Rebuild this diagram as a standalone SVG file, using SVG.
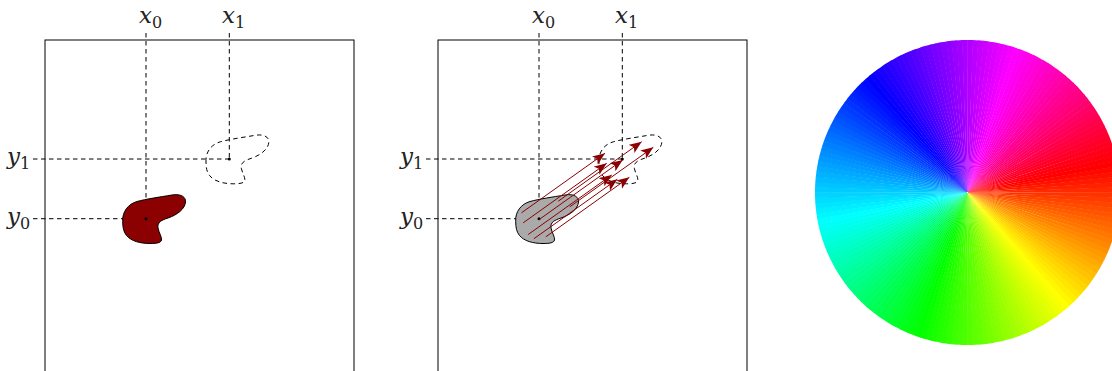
<svg xmlns="http://www.w3.org/2000/svg" width="1112" height="371" viewBox="0 0 1112 371">
<style>
.frame{fill:none;stroke:#000;stroke-width:1}
.dash{fill:none;stroke:#000;stroke-width:1;stroke-dasharray:4.5 3.5}
.arr{stroke:#8b0000;stroke-width:1;fill:none;marker-end:url(#ah)}
.dot{fill:#000}
</style>
<defs>
<path id="blob" d="M122.7,221.7 C122,212 128,204 137,201.5 C146,199 160,197 172,195 C181,193.5 186,197 185.5,202 C185,209 177,215 168,218 C162,220 157,222 158,228 C159,233 162,237 161.5,240 C161,243 156,243.5 150,243.5 C140,243.5 131,241 126.5,235.5 C123.5,232 122.7,227 122.7,221.7 Z"/>
<marker id="ah" markerUnits="userSpaceOnUse" markerWidth="14" markerHeight="12" refX="12.5" refY="5" orient="auto">
<path d="M0,0 L12.5,5 L0,10 L3,5 Z" fill="#8b0000"/>
</marker>
<path id="w" d="M0 0L152.47 -2.93A152.5 152.5 0 0 1 152.47 2.93Z"/>
</defs>

<g id="panel1">
<rect class="frame" x="45" y="40" width="309" height="345"/>
<line class="dash" x1="146" y1="33" x2="146" y2="218.7"/>
<line class="dash" x1="229.3" y1="33" x2="229.3" y2="159"/>
<line class="dash" x1="33" y1="159" x2="229.3" y2="159"/>
<line class="dash" x1="33" y1="218.7" x2="146" y2="218.7"/>
<use href="#blob" fill="#8b0000" stroke="#000" stroke-width="1"/>
<use href="#blob" class="dash" transform="translate(83.3,-59.7)"/>
<circle class="dot" cx="146" cy="218.7" r="1.5"/>
<circle class="dot" cx="229.3" cy="159" r="1.5"/>
<g font-family="DejaVu Serif, serif" fill="#222">
<text x="139" y="23" font-size="23" font-style="italic">x<tspan dy="5" font-size="16" font-style="normal">0</tspan></text>
<text x="222" y="23" font-size="23" font-style="italic">x<tspan dy="5" font-size="16" font-style="normal">1</tspan></text>
<text x="7" y="164" font-size="23" font-style="italic">y<tspan dy="5" font-size="16" font-style="normal">1</tspan></text>
<text x="7" y="224" font-size="23" font-style="italic">y<tspan dy="5" font-size="16" font-style="normal">0</tspan></text>
</g>
</g>

<g id="panel2">
<rect class="frame" x="438" y="40" width="309" height="345"/>
<line class="dash" x1="539" y1="33" x2="539" y2="218.7"/>
<line class="dash" x1="622.3" y1="33" x2="622.3" y2="159"/>
<line class="dash" x1="426" y1="159" x2="622.3" y2="159"/>
<line class="dash" x1="426" y1="218.7" x2="539" y2="218.7"/>
<use href="#blob" fill="#aaaaaa" stroke="#000" stroke-width="1" transform="translate(393,0)"/>
<use href="#blob" class="dash" transform="translate(476.3,-59.7)"/>
<circle class="dot" cx="539" cy="218.7" r="1.5"/>
<circle class="dot" cx="622.3" cy="159" r="1.5"/>
<g font-family="DejaVu Serif, serif" fill="#222">
<text x="532" y="23" font-size="23" font-style="italic">x<tspan dy="5" font-size="16" font-style="normal">0</tspan></text>
<text x="615" y="23" font-size="23" font-style="italic">x<tspan dy="5" font-size="16" font-style="normal">1</tspan></text>
<text x="400" y="164" font-size="23" font-style="italic">y<tspan dy="5" font-size="16" font-style="normal">1</tspan></text>
<text x="400" y="224" font-size="23" font-style="italic">y<tspan dy="5" font-size="16" font-style="normal">0</tspan></text>
</g>
</g>

<g id="connectors">
<line class="arr" x1="558.2" y1="201.2" x2="641.7" y2="141.7"/>
<line class="arr" x1="569.8" y1="206.8" x2="653.3" y2="147.3"/>
<line class="arr" x1="521.5" y1="212.8" x2="605" y2="153.3"/>
<line class="arr" x1="523.2" y1="222.8" x2="606.7" y2="163.3"/>
<line class="arr" x1="539.2" y1="219.5" x2="622.7" y2="160"/>
<line class="arr" x1="528.2" y1="234.5" x2="611.7" y2="175"/>
<line class="arr" x1="533.8" y1="238.8" x2="617.3" y2="179.3"/>
<line class="arr" x1="545.8" y1="236.8" x2="629.3" y2="177.3"/>
</g>

<g id="wheel" transform="translate(967.5,192.5) rotate(-11)">
<use href="#w" transform="rotate(0)" fill="hsl(0,100%,50%)"/>
<use href="#w" transform="rotate(2)" fill="hsl(2,100%,50%)"/>
<use href="#w" transform="rotate(4)" fill="hsl(4,100%,50%)"/>
<use href="#w" transform="rotate(6)" fill="hsl(6,100%,50%)"/>
<use href="#w" transform="rotate(8)" fill="hsl(8,100%,50%)"/>
<use href="#w" transform="rotate(10)" fill="hsl(10,100%,50%)"/>
<use href="#w" transform="rotate(12)" fill="hsl(12,100%,50%)"/>
<use href="#w" transform="rotate(14)" fill="hsl(14,100%,50%)"/>
<use href="#w" transform="rotate(16)" fill="hsl(16,100%,50%)"/>
<use href="#w" transform="rotate(18)" fill="hsl(18,100%,50%)"/>
<use href="#w" transform="rotate(20)" fill="hsl(20,100%,50%)"/>
<use href="#w" transform="rotate(22)" fill="hsl(22,100%,50%)"/>
<use href="#w" transform="rotate(24)" fill="hsl(24,100%,50%)"/>
<use href="#w" transform="rotate(26)" fill="hsl(26,100%,50%)"/>
<use href="#w" transform="rotate(28)" fill="hsl(28,100%,50%)"/>
<use href="#w" transform="rotate(30)" fill="hsl(30,100%,50%)"/>
<use href="#w" transform="rotate(32)" fill="hsl(32,100%,50%)"/>
<use href="#w" transform="rotate(34)" fill="hsl(34,100%,50%)"/>
<use href="#w" transform="rotate(36)" fill="hsl(36,100%,50%)"/>
<use href="#w" transform="rotate(38)" fill="hsl(38,100%,50%)"/>
<use href="#w" transform="rotate(40)" fill="hsl(40,100%,50%)"/>
<use href="#w" transform="rotate(42)" fill="hsl(42,100%,50%)"/>
<use href="#w" transform="rotate(44)" fill="hsl(44,100%,50%)"/>
<use href="#w" transform="rotate(46)" fill="hsl(46,100%,50%)"/>
<use href="#w" transform="rotate(48)" fill="hsl(48,100%,50%)"/>
<use href="#w" transform="rotate(50)" fill="hsl(50,100%,50%)"/>
<use href="#w" transform="rotate(52)" fill="hsl(52,100%,50%)"/>
<use href="#w" transform="rotate(54)" fill="hsl(54,100%,50%)"/>
<use href="#w" transform="rotate(56)" fill="hsl(56,100%,50%)"/>
<use href="#w" transform="rotate(58)" fill="hsl(58,100%,50%)"/>
<use href="#w" transform="rotate(60)" fill="hsl(60,100%,50%)"/>
<use href="#w" transform="rotate(62)" fill="hsl(62,100%,50%)"/>
<use href="#w" transform="rotate(64)" fill="hsl(64,100%,50%)"/>
<use href="#w" transform="rotate(66)" fill="hsl(66,100%,50%)"/>
<use href="#w" transform="rotate(68)" fill="hsl(68,100%,50%)"/>
<use href="#w" transform="rotate(70)" fill="hsl(70,100%,50%)"/>
<use href="#w" transform="rotate(72)" fill="hsl(72,100%,50%)"/>
<use href="#w" transform="rotate(74)" fill="hsl(74,100%,50%)"/>
<use href="#w" transform="rotate(76)" fill="hsl(76,100%,50%)"/>
<use href="#w" transform="rotate(78)" fill="hsl(78,100%,50%)"/>
<use href="#w" transform="rotate(80)" fill="hsl(80,100%,50%)"/>
<use href="#w" transform="rotate(82)" fill="hsl(82,100%,50%)"/>
<use href="#w" transform="rotate(84)" fill="hsl(84,100%,50%)"/>
<use href="#w" transform="rotate(86)" fill="hsl(86,100%,50%)"/>
<use href="#w" transform="rotate(88)" fill="hsl(88,100%,50%)"/>
<use href="#w" transform="rotate(90)" fill="hsl(90,100%,50%)"/>
<use href="#w" transform="rotate(92)" fill="hsl(92,100%,50%)"/>
<use href="#w" transform="rotate(94)" fill="hsl(94,100%,50%)"/>
<use href="#w" transform="rotate(96)" fill="hsl(96,100%,50%)"/>
<use href="#w" transform="rotate(98)" fill="hsl(98,100%,50%)"/>
<use href="#w" transform="rotate(100)" fill="hsl(100,100%,50%)"/>
<use href="#w" transform="rotate(102)" fill="hsl(102,100%,50%)"/>
<use href="#w" transform="rotate(104)" fill="hsl(104,100%,50%)"/>
<use href="#w" transform="rotate(106)" fill="hsl(106,100%,50%)"/>
<use href="#w" transform="rotate(108)" fill="hsl(108,100%,50%)"/>
<use href="#w" transform="rotate(110)" fill="hsl(110,100%,50%)"/>
<use href="#w" transform="rotate(112)" fill="hsl(112,100%,50%)"/>
<use href="#w" transform="rotate(114)" fill="hsl(114,100%,50%)"/>
<use href="#w" transform="rotate(116)" fill="hsl(116,100%,50%)"/>
<use href="#w" transform="rotate(118)" fill="hsl(118,100%,50%)"/>
<use href="#w" transform="rotate(120)" fill="hsl(120,100%,50%)"/>
<use href="#w" transform="rotate(122)" fill="hsl(122,100%,50%)"/>
<use href="#w" transform="rotate(124)" fill="hsl(124,100%,50%)"/>
<use href="#w" transform="rotate(126)" fill="hsl(126,100%,50%)"/>
<use href="#w" transform="rotate(128)" fill="hsl(128,100%,50%)"/>
<use href="#w" transform="rotate(130)" fill="hsl(130,100%,50%)"/>
<use href="#w" transform="rotate(132)" fill="hsl(132,100%,50%)"/>
<use href="#w" transform="rotate(134)" fill="hsl(134,100%,50%)"/>
<use href="#w" transform="rotate(136)" fill="hsl(136,100%,50%)"/>
<use href="#w" transform="rotate(138)" fill="hsl(138,100%,50%)"/>
<use href="#w" transform="rotate(140)" fill="hsl(140,100%,50%)"/>
<use href="#w" transform="rotate(142)" fill="hsl(142,100%,50%)"/>
<use href="#w" transform="rotate(144)" fill="hsl(144,100%,50%)"/>
<use href="#w" transform="rotate(146)" fill="hsl(146,100%,50%)"/>
<use href="#w" transform="rotate(148)" fill="hsl(148,100%,50%)"/>
<use href="#w" transform="rotate(150)" fill="hsl(150,100%,50%)"/>
<use href="#w" transform="rotate(152)" fill="hsl(152,100%,50%)"/>
<use href="#w" transform="rotate(154)" fill="hsl(154,100%,50%)"/>
<use href="#w" transform="rotate(156)" fill="hsl(156,100%,50%)"/>
<use href="#w" transform="rotate(158)" fill="hsl(158,100%,50%)"/>
<use href="#w" transform="rotate(160)" fill="hsl(160,100%,50%)"/>
<use href="#w" transform="rotate(162)" fill="hsl(162,100%,50%)"/>
<use href="#w" transform="rotate(164)" fill="hsl(164,100%,50%)"/>
<use href="#w" transform="rotate(166)" fill="hsl(166,100%,50%)"/>
<use href="#w" transform="rotate(168)" fill="hsl(168,100%,50%)"/>
<use href="#w" transform="rotate(170)" fill="hsl(170,100%,50%)"/>
<use href="#w" transform="rotate(172)" fill="hsl(172,100%,50%)"/>
<use href="#w" transform="rotate(174)" fill="hsl(174,100%,50%)"/>
<use href="#w" transform="rotate(176)" fill="hsl(176,100%,50%)"/>
<use href="#w" transform="rotate(178)" fill="hsl(178,100%,50%)"/>
<use href="#w" transform="rotate(180)" fill="hsl(180,100%,50%)"/>
<use href="#w" transform="rotate(182)" fill="hsl(182,100%,50%)"/>
<use href="#w" transform="rotate(184)" fill="hsl(184,100%,50%)"/>
<use href="#w" transform="rotate(186)" fill="hsl(186,100%,50%)"/>
<use href="#w" transform="rotate(188)" fill="hsl(188,100%,50%)"/>
<use href="#w" transform="rotate(190)" fill="hsl(190,100%,50%)"/>
<use href="#w" transform="rotate(192)" fill="hsl(192,100%,50%)"/>
<use href="#w" transform="rotate(194)" fill="hsl(194,100%,50%)"/>
<use href="#w" transform="rotate(196)" fill="hsl(196,100%,50%)"/>
<use href="#w" transform="rotate(198)" fill="hsl(198,100%,50%)"/>
<use href="#w" transform="rotate(200)" fill="hsl(200,100%,50%)"/>
<use href="#w" transform="rotate(202)" fill="hsl(202,100%,50%)"/>
<use href="#w" transform="rotate(204)" fill="hsl(204,100%,50%)"/>
<use href="#w" transform="rotate(206)" fill="hsl(206,100%,50%)"/>
<use href="#w" transform="rotate(208)" fill="hsl(208,100%,50%)"/>
<use href="#w" transform="rotate(210)" fill="hsl(210,100%,50%)"/>
<use href="#w" transform="rotate(212)" fill="hsl(212,100%,50%)"/>
<use href="#w" transform="rotate(214)" fill="hsl(214,100%,50%)"/>
<use href="#w" transform="rotate(216)" fill="hsl(216,100%,50%)"/>
<use href="#w" transform="rotate(218)" fill="hsl(218,100%,50%)"/>
<use href="#w" transform="rotate(220)" fill="hsl(220,100%,50%)"/>
<use href="#w" transform="rotate(222)" fill="hsl(222,100%,50%)"/>
<use href="#w" transform="rotate(224)" fill="hsl(224,100%,50%)"/>
<use href="#w" transform="rotate(226)" fill="hsl(226,100%,50%)"/>
<use href="#w" transform="rotate(228)" fill="hsl(228,100%,50%)"/>
<use href="#w" transform="rotate(230)" fill="hsl(230,100%,50%)"/>
<use href="#w" transform="rotate(232)" fill="hsl(232,100%,50%)"/>
<use href="#w" transform="rotate(234)" fill="hsl(234,100%,50%)"/>
<use href="#w" transform="rotate(236)" fill="hsl(236,100%,50%)"/>
<use href="#w" transform="rotate(238)" fill="hsl(238,100%,50%)"/>
<use href="#w" transform="rotate(240)" fill="hsl(240,100%,50%)"/>
<use href="#w" transform="rotate(242)" fill="hsl(242,100%,50%)"/>
<use href="#w" transform="rotate(244)" fill="hsl(244,100%,50%)"/>
<use href="#w" transform="rotate(246)" fill="hsl(246,100%,50%)"/>
<use href="#w" transform="rotate(248)" fill="hsl(248,100%,50%)"/>
<use href="#w" transform="rotate(250)" fill="hsl(250,100%,50%)"/>
<use href="#w" transform="rotate(252)" fill="hsl(252,100%,50%)"/>
<use href="#w" transform="rotate(254)" fill="hsl(254,100%,50%)"/>
<use href="#w" transform="rotate(256)" fill="hsl(256,100%,50%)"/>
<use href="#w" transform="rotate(258)" fill="hsl(258,100%,50%)"/>
<use href="#w" transform="rotate(260)" fill="hsl(260,100%,50%)"/>
<use href="#w" transform="rotate(262)" fill="hsl(262,100%,50%)"/>
<use href="#w" transform="rotate(264)" fill="hsl(264,100%,50%)"/>
<use href="#w" transform="rotate(266)" fill="hsl(266,100%,50%)"/>
<use href="#w" transform="rotate(268)" fill="hsl(268,100%,50%)"/>
<use href="#w" transform="rotate(270)" fill="hsl(270,100%,50%)"/>
<use href="#w" transform="rotate(272)" fill="hsl(272,100%,50%)"/>
<use href="#w" transform="rotate(274)" fill="hsl(274,100%,50%)"/>
<use href="#w" transform="rotate(276)" fill="hsl(276,100%,50%)"/>
<use href="#w" transform="rotate(278)" fill="hsl(278,100%,50%)"/>
<use href="#w" transform="rotate(280)" fill="hsl(280,100%,50%)"/>
<use href="#w" transform="rotate(282)" fill="hsl(282,100%,50%)"/>
<use href="#w" transform="rotate(284)" fill="hsl(284,100%,50%)"/>
<use href="#w" transform="rotate(286)" fill="hsl(286,100%,50%)"/>
<use href="#w" transform="rotate(288)" fill="hsl(288,100%,50%)"/>
<use href="#w" transform="rotate(290)" fill="hsl(290,100%,50%)"/>
<use href="#w" transform="rotate(292)" fill="hsl(292,100%,50%)"/>
<use href="#w" transform="rotate(294)" fill="hsl(294,100%,50%)"/>
<use href="#w" transform="rotate(296)" fill="hsl(296,100%,50%)"/>
<use href="#w" transform="rotate(298)" fill="hsl(298,100%,50%)"/>
<use href="#w" transform="rotate(300)" fill="hsl(300,100%,50%)"/>
<use href="#w" transform="rotate(302)" fill="hsl(302,100%,50%)"/>
<use href="#w" transform="rotate(304)" fill="hsl(304,100%,50%)"/>
<use href="#w" transform="rotate(306)" fill="hsl(306,100%,50%)"/>
<use href="#w" transform="rotate(308)" fill="hsl(308,100%,50%)"/>
<use href="#w" transform="rotate(310)" fill="hsl(310,100%,50%)"/>
<use href="#w" transform="rotate(312)" fill="hsl(312,100%,50%)"/>
<use href="#w" transform="rotate(314)" fill="hsl(314,100%,50%)"/>
<use href="#w" transform="rotate(316)" fill="hsl(316,100%,50%)"/>
<use href="#w" transform="rotate(318)" fill="hsl(318,100%,50%)"/>
<use href="#w" transform="rotate(320)" fill="hsl(320,100%,50%)"/>
<use href="#w" transform="rotate(322)" fill="hsl(322,100%,50%)"/>
<use href="#w" transform="rotate(324)" fill="hsl(324,100%,50%)"/>
<use href="#w" transform="rotate(326)" fill="hsl(326,100%,50%)"/>
<use href="#w" transform="rotate(328)" fill="hsl(328,100%,50%)"/>
<use href="#w" transform="rotate(330)" fill="hsl(330,100%,50%)"/>
<use href="#w" transform="rotate(332)" fill="hsl(332,100%,50%)"/>
<use href="#w" transform="rotate(334)" fill="hsl(334,100%,50%)"/>
<use href="#w" transform="rotate(336)" fill="hsl(336,100%,50%)"/>
<use href="#w" transform="rotate(338)" fill="hsl(338,100%,50%)"/>
<use href="#w" transform="rotate(340)" fill="hsl(340,100%,50%)"/>
<use href="#w" transform="rotate(342)" fill="hsl(342,100%,50%)"/>
<use href="#w" transform="rotate(344)" fill="hsl(344,100%,50%)"/>
<use href="#w" transform="rotate(346)" fill="hsl(346,100%,50%)"/>
<use href="#w" transform="rotate(348)" fill="hsl(348,100%,50%)"/>
<use href="#w" transform="rotate(350)" fill="hsl(350,100%,50%)"/>
<use href="#w" transform="rotate(352)" fill="hsl(352,100%,50%)"/>
<use href="#w" transform="rotate(354)" fill="hsl(354,100%,50%)"/>
<use href="#w" transform="rotate(356)" fill="hsl(356,100%,50%)"/>
<use href="#w" transform="rotate(358)" fill="hsl(358,100%,50%)"/>
</g>
</svg>
